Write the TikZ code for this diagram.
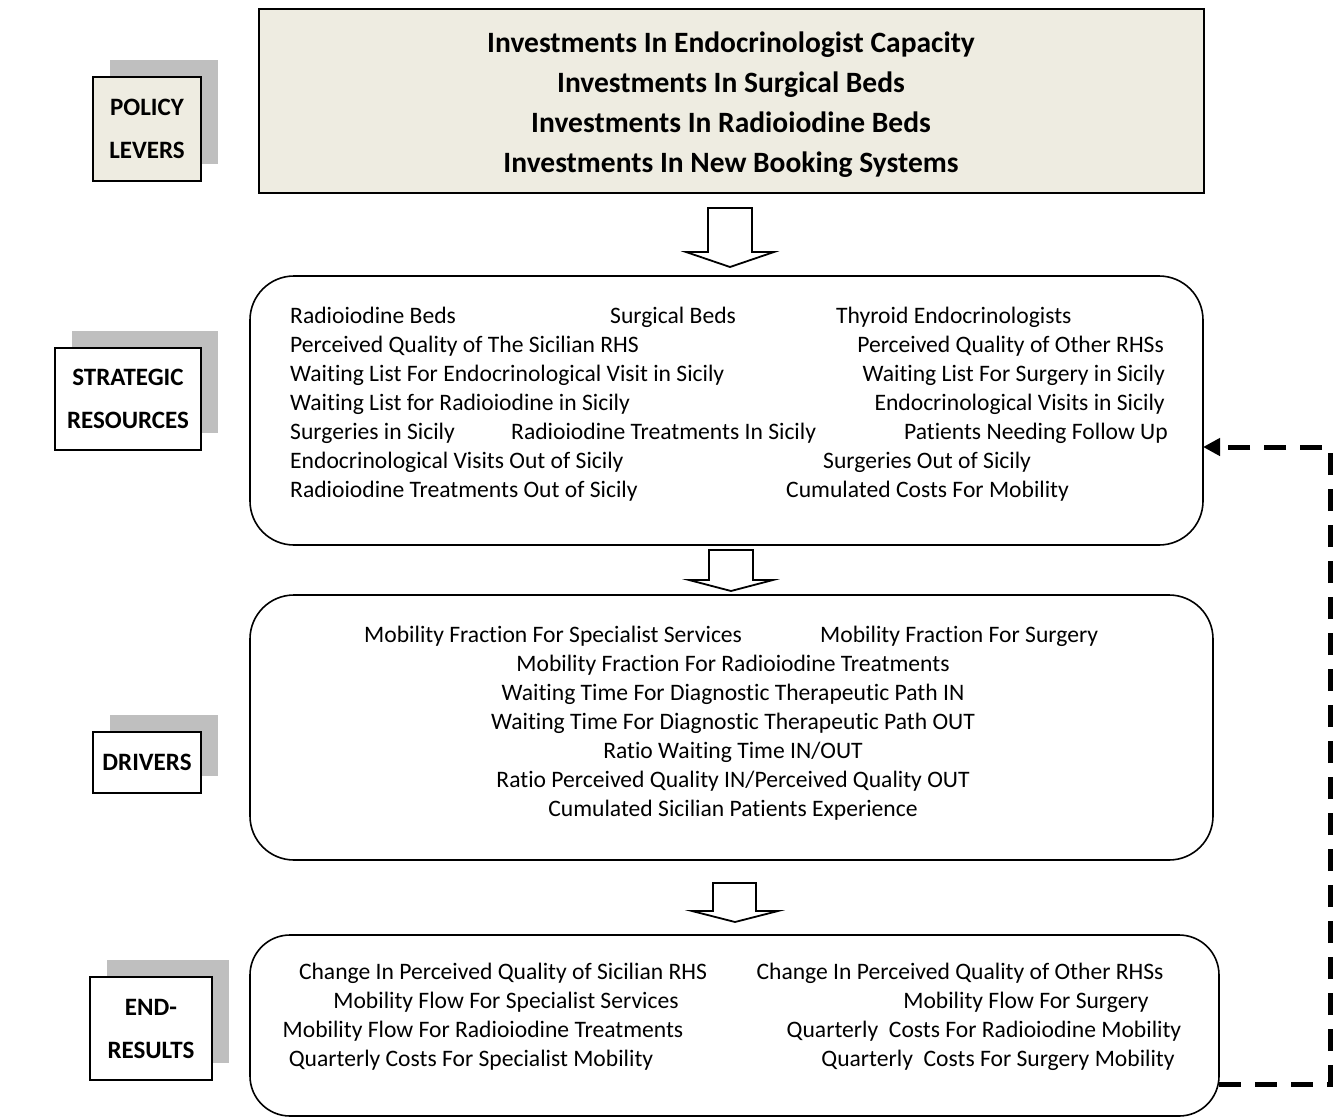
\documentclass[tikz,border=0pt]{standalone}
\usepackage{fontspec}
\setmainfont{Carlito}[Ligatures=NoCommon]
\usetikzlibrary{arrows.meta,shadows}
\definecolor{paper}{HTML}{EEECE1}
\definecolor{shade}{HTML}{BFBFBF}

\begin{document}
\begin{tikzpicture}[x=1pt,y=-1pt,
  body/.style={inner sep=0pt,font=\fontsize{23.6}{28}\selectfont},
  L/.style={body,anchor=base west},
  R/.style={body,anchor=base east},
  C/.style={body,anchor=base},
  headline/.style={inner sep=0pt,anchor=base,font=\bfseries\fontsize{29.5}{34}\selectfont},
  tag/.style={draw,line width=2.6pt,fill=white,align=center,inner sep=0pt,
    font=\bfseries\fontsize{25}{43}\selectfont,
    general shadow={fill=shade,shadow xshift=17pt,shadow yshift=17pt}},
  panel/.style={draw,line width=1.6pt,rounded corners=44pt,fill=white},
  blockarrow/.style={draw,line width=1.8pt,fill=white,line join=miter},
  feedback/.style={line width=5pt,dash pattern=on 22pt off 14pt,
    -{Triangle[length=17pt,width=17pt]}}]
\useasboundingbox (0,0) rectangle (1334,1119);

% ---------- left column labels ----------
\node[tag,fill=paper,minimum width=108pt,minimum height=104pt] (lev) at (147,129) {POLICY\\LEVERS};
\node[tag,minimum width=146pt,minimum height=102pt] (res) at (128,399) {STRATEGIC\\RESOURCES};
\node[tag,minimum width=108pt,minimum height=61pt] (drv) at (147,762.5) {DRIVERS};
\node[tag,minimum width=122pt,minimum height=103pt] (end) at (151,1028.5) {END-\\RESULTS};

% ---------- policy levers ----------
\draw[line width=2.6pt,fill=paper] (259,9) rectangle (1204,193);
\node[headline] (p1) at (731,52) {Investments In Endocrinologist Capacity};
\node[headline] (p2) at (731,92) {Investments In Surgical Beds};
\node[headline] (p3) at (731,132) {Investments In Radioiodine Beds};
\node[headline] (p4) at (731,172) {Investments In New Booking Systems};

% ---------- block arrows ----------
\draw[blockarrow] (708,208) -- (752,208) -- (752,252) -- (774,252) -- (730,267)
  -- (686,252) -- (708,252) -- cycle;
\draw[blockarrow] (709,550) -- (753,550) -- (753,580) -- (773,580) -- (731,591)
  -- (689,580) -- (709,580) -- cycle;
\draw[blockarrow] (713,883) -- (756,883) -- (756,911) -- (778,911) -- (735,922)
  -- (692,911) -- (713,911) -- cycle;

% ---------- strategic resources ----------
\draw[panel] (250,276) rectangle (1203,545);
\coordinate (resE) at (1203,447);
\node[L] (r1a) at (290,323) {Radioiodine Beds};
\node[L] (r1b) at (610,323) {Surgical Beds};
\node[L] (r1c) at (836,323) {Thyroid Endocrinologists};
\node[L] (r2a) at (290,352) {Perceived Quality of The Sicilian RHS};
\node[R] (r2b) at (1164,352) {Perceived Quality of Other RHSs};
\node[L] (r3a) at (290,381) {Waiting List For Endocrinological Visit in Sicily};
\node[R] (r3b) at (1165,381) {Waiting List For Surgery in Sicily};
\node[L] (r4a) at (290,410) {Waiting List for Radioiodine in Sicily};
\node[R] (r4b) at (1165,410) {Endocrinological Visits in Sicily};
\node[L] (r5a) at (290,439) {Surgeries in Sicily};
\node[L] (r5b) at (511,439) {Radioiodine Treatments In Sicily};
\node[R] (r5c) at (1168,439) {Patients Needing Follow Up};
\node[L] (r6a) at (290,468) {Endocrinological Visits Out of Sicily};
\node[L] (r6b) at (823,468) {Surgeries Out of Sicily};
\node[L] (r7a) at (290,497) {Radioiodine Treatments Out of Sicily};
\node[L] (r7b) at (786,497) {Cumulated Costs For Mobility};

% ---------- drivers ----------
\draw[panel] (250,595) rectangle (1213,860);
\node[L] (d1a) at (364,642) {Mobility Fraction For Specialist Services};
\node[L] (d1b) at (820,642) {Mobility Fraction For Surgery};
\node[C] (d2) at (733,671) {Mobility Fraction For Radioiodine Treatments};
\node[C] (d3) at (733,700) {Waiting Time For Diagnostic Therapeutic Path IN};
\node[C] (d4) at (733,729) {Waiting Time For Diagnostic Therapeutic Path OUT};
\node[C] (d5) at (733,758) {Ratio Waiting Time IN/OUT};
\node[C] (d6) at (733,787) {Ratio Perceived Quality IN/Perceived Quality OUT};
\node[C] (d7) at (733,816) {Cumulated Sicilian Patients Experience};

% ---------- end results ----------
\draw[panel,rounded corners=40pt] (250,935) rectangle (1219,1116);
\coordinate (endE) at (1219,1084);
\node[C] (e1a) at (503,979) {Change In Perceived Quality of Sicilian RHS};
\node[C] (e1b) at (960,979) {Change In Perceived Quality of Other RHSs};
\node[C] (e2a) at (506,1008) {Mobility Flow For Specialist Services};
\node[C] (e2b) at (1026,1008) {Mobility Flow For Surgery};
\node[C] (e3a) at (483,1037) {Mobility Flow For Radioiodine Treatments};
\node[C] (e3b) at (984,1037) {Quarterly\ \ Costs For Radioiodine Mobility};
\node[C] (e4a) at (471,1066) {Quarterly Costs For Specialist Mobility};
\node[C] (e4b) at (998,1066) {Quarterly\ \ Costs For Surgery Mobility};

% ---------- feedback loop ----------
\draw[feedback] (endE) -- (1330,1084) -- (1330,447) -- (resE);
\end{tikzpicture}
\end{document}
